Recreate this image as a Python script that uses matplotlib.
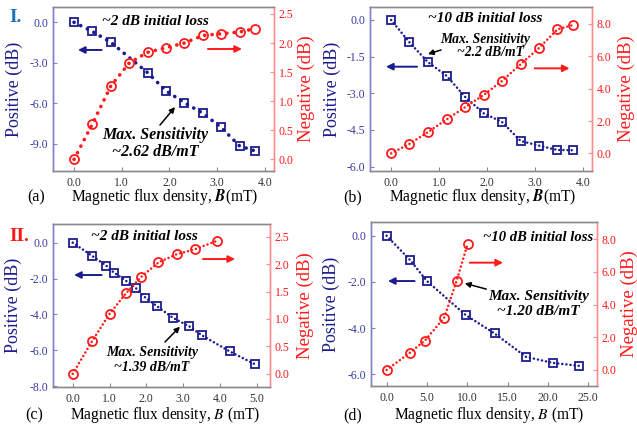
import matplotlib
matplotlib.use('Agg')
import matplotlib.pyplot as plt
from matplotlib.ticker import FormatStrFormatter

plt.rcParams['font.family'] = ['Liberation Serif', 'DejaVu Serif']
plt.rcParams['mathtext.fontset'] = 'stix'
plt.rcParams['axes.unicode_minus'] = False

# ---- data ----
# (a) series I, 0-4 mT
a_b = [0.0, 0.38, 0.77, 1.16, 1.54, 1.93, 2.31, 2.70, 3.08, 3.47, 3.80]
a_pos_b = [0.0, 0.38, 0.77, 1.54, 1.93, 2.31, 2.70, 3.08, 3.47, 3.80]
a_pos = [0.0, -0.67, -1.48, -3.72, -5.08, -5.94, -6.73, -7.77, -9.15, -9.52]
a_neg = [0.0, 0.60, 1.26, 1.66, 1.84, 1.92, 2.00, 2.13, 2.16, 2.19, 2.25]

# (b) series I, high initial loss
b_b = [0.0, 0.38, 0.77, 1.16, 1.54, 1.93, 2.31, 2.70, 3.08, 3.47, 3.80]
b_pos = [0.0, -0.91, -1.73, -2.29, -3.14, -3.82, -4.17, -4.95, -5.14, -5.32, -5.33]
b_neg = [0.0, 0.58, 1.32, 2.10, 2.85, 3.61, 4.47, 5.51, 6.50, 7.67, 7.94]

# (c) series II
c_pos_b = [0.0, 0.53, 0.91, 1.12, 1.45, 1.72, 1.97, 2.30, 2.72, 3.17, 3.51, 4.26, 4.95]
c_pos = [0.0, -0.74, -1.28, -1.67, -2.13, -2.54, -3.06, -3.56, -4.19, -4.67, -5.17, -6.06, -6.78]
c_neg_b = [0.0, 0.53, 1.0, 1.45, 1.85, 2.33, 2.83, 3.32, 3.91]
c_neg = [0.0, 0.60, 1.09, 1.47, 1.76, 2.03, 2.18, 2.27, 2.42]

# (d) series II, high initial loss
d_pos_b = [0.0, 2.9, 5.0, 9.8, 13.4, 17.3, 20.6, 23.9]
d_pos = [0.0, -1.05, -1.96, -3.43, -4.23, -5.24, -5.50, -5.63]
d_neg_b = [0.0, 2.9, 4.75, 7.15, 8.68, 10.04]
d_neg = [0.0, 1.06, 1.80, 3.20, 5.45, 7.69]

BLUE = '#1c1c8e'
BLUE_T = '#3a3aa0'
BLUE_SP = '#8080c8'
RED = '#ff1a1a'
RED_SP = '#ff8c8c'
GRAY = '#8a8a8a'

fig = plt.figure(figsize=(6.37, 4.30), dpi=100)

panels = [
    dict(pos=[53, 7, 274, 171], xlim=(-0.44, 4.19), xt=[0, 1, 2, 3, 4],
         yl=(-11.0, 1.13), yt=[0, -3, -6, -9], yr=(-0.2, 2.62), yrt=[0, 0.5, 1, 1.5, 2, 2.5],
         pb=a_pos_b, pv=a_pos, nb=a_b, nv=a_neg, dot=2.6, gap=2.0,
         letter='(a)', xl=r'Magnetic flux density, $\boldsymbol{B}$(mT)'),
    dict(pos=[370, 7, 592, 171], xlim=(-0.44, 4.19), xt=[0, 1, 2, 3, 4],
         yl=(-6.18, 0.53), yt=[0, -1.5, -3, -4.5, -6], yr=(-1.09, 9.05), yrt=[0, 2, 4, 6, 8],
         pb=b_b, pv=b_pos, nb=b_b, nv=b_neg, dot=1.8, gap=1.6,
         letter='(b)', xl=r'Magnetic flux density, $\boldsymbol{B}$(mT)'),
    dict(pos=[53, 224, 270, 387], xlim=(-0.535, 5.36), xt=[0, 1, 2, 3, 4, 5],
         yl=(-8.05, 1.04), yt=[0, -2, -4, -6, -8], yr=(-0.24, 2.73), yrt=[0, 0.5, 1, 1.5, 2, 2.5],
         pb=c_pos_b, pv=c_pos, nb=c_neg_b, nv=c_neg, dot=1.8, gap=1.6,
         letter='(c)', xl=r'Magnetic flux density, $B$ (mT)'),
    dict(pos=[371, 222, 597, 386], xlim=(-1.93, 26.1), xt=[0, 5, 10, 15, 20, 25],
         yl=(-6.5, 0.59), yt=[0, -2, -4, -6], yr=(-0.98, 9.06), yrt=[0, 2, 4, 6, 8],
         pb=d_pos_b, pv=d_pos, nb=d_neg_b, nv=d_neg, dot=1.8, gap=1.6,
         letter='(d)', xl=r'Magnetic flux density, $B$ (mT)'),
]

W, H = 637.0, 430.0
axes = []
for p in panels:
    x0, y0, x1, y1 = p['pos']
    ax = fig.add_axes([x0 / W, 1 - y1 / H, (x1 - x0) / W, (y1 - y0) / H])
    ax2 = ax.twinx()
    ls = (0, (0.05, p['gap']))
    ax.plot(p['pb'], p['pv'], color=BLUE, lw=p['dot'], ls=ls, dash_capstyle='round', zorder=2)
    ax.plot(p['pb'], p['pv'], ls='none', marker='s', ms=5.5, mfc='none', mec=BLUE, mew=1.3, zorder=3)
    ax2.plot(p['nb'], p['nv'], color=RED, lw=p['dot'], ls=ls, dash_capstyle='round', zorder=2)
    ax2.plot(p['nb'], p['nv'], ls='none', marker='o', ms=6.5, mfc='none', mec=RED, mew=1.3, zorder=3)

    ax.set_xlim(*p['xlim'])
    ax.set_xticks(p['xt'])
    ax.xaxis.set_major_formatter(FormatStrFormatter('%.1f'))
    ax.set_ylim(*p['yl'])
    ax.set_yticks(p['yt'])
    ax.yaxis.set_major_formatter(FormatStrFormatter('%.1f'))
    ax2.set_ylim(*p['yr'])
    ax2.set_yticks(p['yrt'])
    ax2.yaxis.set_major_formatter(FormatStrFormatter('%.1f'))

    for a in (ax, ax2):
        for s in a.spines.values():
            s.set_linewidth(1.0)
        a.spines['top'].set_color(GRAY)
        a.spines['bottom'].set_color(GRAY)
        a.spines['left'].set_color(BLUE_SP)
        a.spines['right'].set_color(RED_SP)
    ax.tick_params(axis='x', direction='in', length=3, colors=GRAY, labelcolor='#333333', labelsize=8.5, pad=4)
    ax.tick_params(axis='y', direction='in', length=3, colors=BLUE_SP, labelcolor=BLUE_T, labelsize=8.5)
    ax2.tick_params(axis='y', direction='in', length=3, colors=RED_SP, labelcolor=RED, labelsize=8.5)

    ax.set_ylabel('Positive (dB)', color=BLUE, fontsize=13)
    ax2.set_ylabel('Negative (dB)', color=RED, fontsize=13.5)
    axes.append((ax, ax2))

# label coordinates (axes fraction)
lab = [(-0.176, 1.148, -0.077, 0.505, -0.159),
       (-0.171, 1.153, -0.077, 0.507, -0.159),
       (-0.183, 1.161, -0.085, 0.518, -0.172),
       (-0.176, 1.145, -0.080, 0.524, -0.177)]
for (ax, ax2), p, (ly, ry, lx, mx, xy) in zip(axes, panels, lab):
    ax.yaxis.set_label_coords(ly, 0.5)
    ax2.yaxis.set_label_coords(ry, 0.5)
    ax.yaxis.label.set_va('center')
    ax2.yaxis.label.set_va('center')
    ax.text(lx, xy, p['letter'], transform=ax.transAxes, ha='center', va='center', fontsize=11.5)
    ax.text(mx, xy, p['xl'], transform=ax.transAxes, ha='center', va='center', fontsize=11.2)

bi = dict(fontweight='bold', fontstyle='italic', ha='center', va='center', zorder=5)


def arrow(ax, tail, head, color, lw=1.4, ms=10):
    ax.annotate('', xy=head, xytext=tail, xycoords='axes fraction', textcoords='axes fraction',
                arrowprops=dict(arrowstyle='-|>', color=color, lw=lw, mutation_scale=ms,
                                shrinkA=0, shrinkB=0), zorder=6)


# (a)
ax = axes[0][1]
ax.text(0.462, 0.909, '~2 dB initial loss', transform=ax.transAxes, fontsize=11, **bi)
ax.text(0.462, 0.168, 'Max. Sensitivity\n~2.62 dB/mT', transform=ax.transAxes, fontsize=11.5,
        linespacing=1.05, **bi)
arrow(ax, (0.484, 0.28), (0.552, 0.39), 'black', lw=1.1, ms=8)
arrow(ax, (0.220, 0.738), (0.113, 0.738), BLUE)
arrow(ax, (0.701, 0.744), (0.855, 0.744), RED)

# (b)
ax = axes[1][1]
ax.text(0.517, 0.931, '~10 dB initial loss', transform=ax.transAxes, fontsize=11, **bi)
ax.text(0.517, 0.803, 'Max. Sensitivity', transform=ax.transAxes, fontsize=9.8, **bi)
ax.text(0.545, 0.720, '~2.2 dB/mT', transform=ax.transAxes, fontsize=9.8, **bi)
arrow(ax, (0.320, 0.738), (0.261, 0.713), 'black', lw=1.1, ms=8)
arrow(ax, (0.212, 0.636), (0.072, 0.636), BLUE)
arrow(ax, (0.742, 0.626), (0.899, 0.626), RED)

# (c)
ax = axes[2][1]
ax.text(0.419, 0.922, '~2 dB initial loss', transform=ax.transAxes, fontsize=11, **bi)
ax.text(0.455, 0.166, 'Max. Sensitivity\n~1.39 dB/mT', transform=ax.transAxes, fontsize=10,
        linespacing=1.15, **bi)
arrow(ax, (0.516, 0.276), (0.585, 0.370), 'black', lw=1.1, ms=8)
arrow(ax, (0.224, 0.687), (0.097, 0.687), BLUE)
arrow(ax, (0.691, 0.785), (0.839, 0.785), RED)

# (d)
ax = axes[3][1]
ax.text(0.740, 0.904, '~10 dB initial loss', transform=ax.transAxes, fontsize=10.5, **bi)
ax.text(0.740, 0.50, 'Max. Sensitivity\n~1.20 dB/mT', transform=ax.transAxes, fontsize=11,
        linespacing=1.15, **bi)
arrow(ax, (0.510, 0.591), (0.415, 0.626), 'black', lw=1.1, ms=8)
arrow(ax, (0.193, 0.640), (0.075, 0.640), BLUE)
arrow(ax, (0.437, 0.752), (0.584, 0.752), RED)

fig.text(16 / W, 1 - 18 / H, 'I.', color='#1f6fc0', fontsize=14, fontweight='bold', ha='center', va='center')
fig.text(19 / W, 1 - 237 / H, 'II.', color=RED, fontsize=14, fontweight='bold', ha='center', va='center')

fig.savefig('out.png', dpi=100)
